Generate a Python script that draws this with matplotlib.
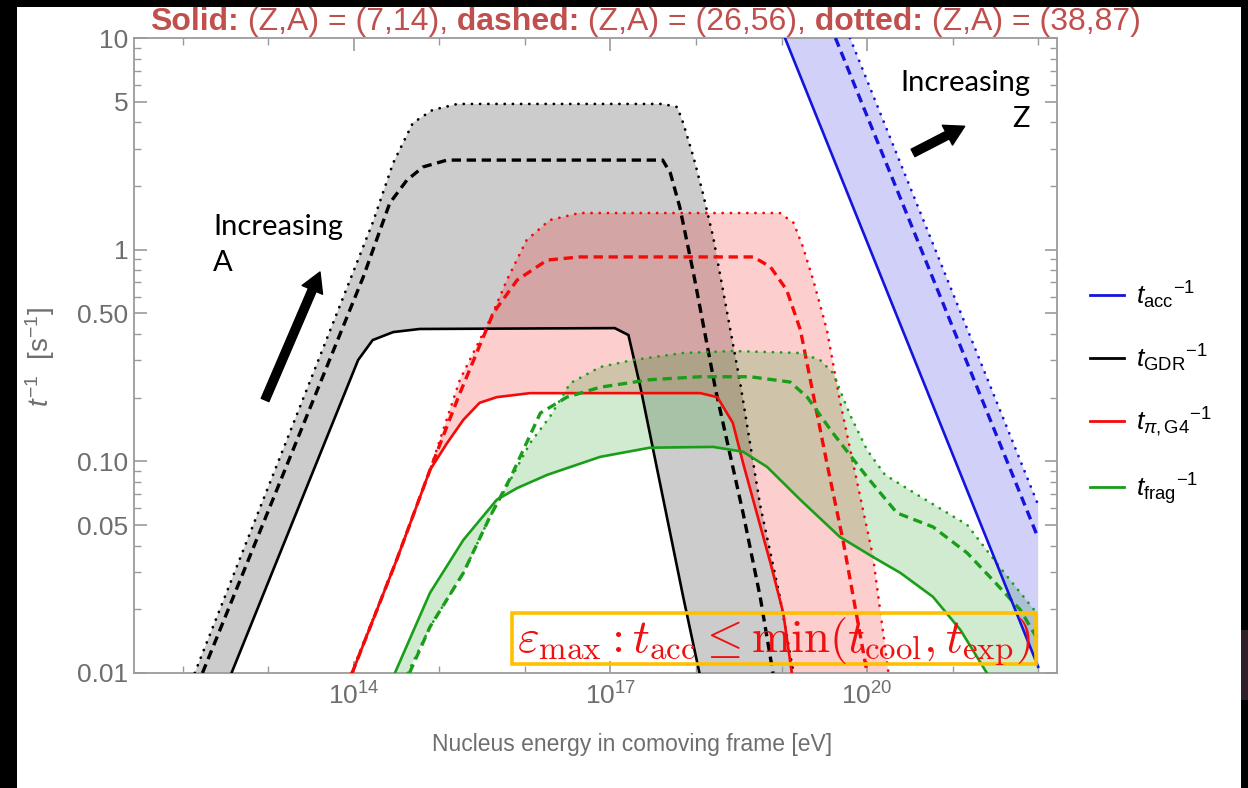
import numpy as np
import matplotlib
matplotlib.use('Agg')
import matplotlib.pyplot as plt
from matplotlib.lines import Line2D
from matplotlib.patches import Rectangle, ArrowStyle
from matplotlib.ticker import NullFormatter
from matplotlib import font_manager

# energies as log10(E / eV), rates t^-1 in 1/s
# solid: (Z,A) = (7,14), dashed: (26,56), dotted: (38,87)

# acceleration
acc_solid_logE = [19.04, 22.0]
acc_solid_t = [10.0, 0.0107]
acc_dashed_logE = [19.63, 22.0]
acc_dashed_t = [10.0, 0.0434]
acc_dotted_logE = [19.80, 22.0]
acc_dotted_t = [10.0, 0.0622]

# giant dipole resonance
gdr_solid_logE = [12.57, 14.05, 14.22, 14.46, 14.77, 17.05, 17.21, 17.35, 17.50, 17.85, 18.04]
gdr_solid_t = [0.0100, 0.301, 0.374, 0.408, 0.422, 0.426, 0.395, 0.224, 0.113, 0.0229, 0.0100]
gdr_dashed_logE = [12.23, 14.11, 14.42, 14.62, 14.81, 15.09, 17.61, 17.70, 17.81, 17.97, 18.23, 18.55, 18.75, 18.90]
gdr_dashed_t = [0.0100, 0.743, 1.66, 2.13, 2.46, 2.65, 2.65, 2.30, 1.59, 0.776, 0.217, 0.0570, 0.0229, 0.0100]
gdr_dotted_logE = [12.14, 14.22, 14.46, 14.69, 14.92, 15.21, 17.61, 17.78, 17.85, 17.97, 18.08, 18.20, 18.52, 18.75, 18.98, 19.14]
gdr_dotted_t = [0.0100, 1.34, 2.57, 3.97, 4.57, 4.88, 4.88, 4.72, 3.97, 2.74, 1.85, 1.15, 0.23, 0.062, 0.0229, 0.0100]

# photopion (Geant4)
pi_solid_logE = [13.98, 14.50, 14.89, 15.09, 15.28, 15.47, 15.67, 16.06, 18.05, 18.25, 18.43, 18.55, 18.71, 18.87, 19.02, 19.12]
pi_solid_t = [0.0100, 0.0342, 0.0910, 0.122, 0.157, 0.189, 0.201, 0.210, 0.210, 0.201, 0.152, 0.0982, 0.0570, 0.0331, 0.0192, 0.0100]
pi_dashed_logE = [13.98, 14.50, 14.89, 15.24, 15.63, 15.91, 16.26, 16.64, 18.67, 18.87, 19.06, 19.22, 19.53, 19.72, 20.0]
pi_dashed_t = [0.0100, 0.0342, 0.0910, 0.21, 0.502, 0.719, 0.893, 0.924, 0.924, 0.829, 0.645, 0.418, 0.098, 0.042, 0.0100]
pi_dotted_logE = [13.97, 14.50, 14.89, 15.24, 15.59, 15.79, 16.02, 16.29, 16.64, 18.98, 19.14, 19.25, 19.37, 19.53, 19.68, 19.92, 20.07, 20.25]
pi_dotted_t = [0.0100, 0.0342, 0.0910, 0.243, 0.466, 0.719, 1.11, 1.38, 1.49, 1.49, 1.34, 1.03, 0.719, 0.418, 0.195, 0.0679, 0.0353, 0.0100]

# fragmentation
frag_solid_logE = [14.48, 14.89, 15.28, 15.67, 15.91, 16.26, 16.88, 17.46, 18.20, 18.55, 18.83, 19.22, 19.68, 20.07, 20.39, 20.77, 21.09, 21.40]
frag_solid_t = [0.0100, 0.0239, 0.0425, 0.0658, 0.0748, 0.0863, 0.105, 0.116, 0.117, 0.111, 0.0942, 0.0658, 0.0440, 0.0353, 0.0297, 0.0229, 0.0160, 0.0100]
frag_dashed_logE = [14.65, 14.89, 15.28, 15.59, 15.83, 16.18, 16.49, 16.88, 17.46, 18.05, 18.63, 19.10, 19.30, 19.60, 20.0, 20.35, 20.77, 21.17, 21.47, 21.79, 22.0]
frag_dashed_t = [0.0100, 0.0165, 0.0297, 0.0546, 0.0835, 0.169, 0.201, 0.224, 0.243, 0.251, 0.251, 0.237, 0.201, 0.136, 0.0843, 0.0570, 0.0490, 0.0369, 0.0275, 0.0199, 0.0143]
frag_dotted_logE = [14.63, 14.89, 15.28, 15.59, 15.83, 16.06, 16.29, 16.53, 16.88, 17.26, 17.85, 18.43, 19.22, 19.45, 19.60, 19.80, 20.0, 20.21, 20.59, 21.17, 21.56, 22.0]
frag_dotted_t = [0.0100, 0.0165, 0.0297, 0.0546, 0.0817, 0.122, 0.162, 0.234, 0.279, 0.301, 0.325, 0.332, 0.325, 0.301, 0.262, 0.166, 0.113, 0.0863, 0.0694, 0.0501, 0.0313, 0.0188]

legend_labels = [r'${t_{\rm acc}}^{-1}$', r'${t_{\rm GDR}}^{-1}$', r'${t_{\pi,\rm G4}}^{-1}$', r'${t_{\rm frag}}^{-1}$']
y_ticks = [0.01, 0.05, 0.1, 0.5, 1, 5, 10]
y_ticklabels = ['0.01', '0.05', '0.10', '0.50', '1', '5', '10']
x_tick_exp = [14, 17, 20]
title_parts = [('Solid:', 'bold'), (' (Z,A) = (7,14),', 'normal'),
               (' dashed:', 'bold'), (' (Z,A) = (26,56),', 'normal'),
               (' dotted:', 'bold'), (' (Z,A) = (38,87)', 'normal')]

c_acc = '#1414dc'
c_gdr = 'black'
c_pi = '#f50a0a'
c_frag = '#1a9e1a'
gray_txt = '#6e6e6e'
gray_ax = '#9b9b9b'

plt.rcParams['font.family'] = ['Liberation Sans', 'DejaVu Sans']
plt.rcParams['mathtext.fontset'] = 'custom'
plt.rcParams['mathtext.rm'] = 'Liberation Sans'
plt.rcParams['mathtext.it'] = 'Liberation Sans:italic'
plt.rcParams['mathtext.bf'] = 'Liberation Sans:bold'

names = {f.name for f in font_manager.fontManager.ttflist}
title_font = 'Liberation Sans Narrow' if 'Liberation Sans Narrow' in names else 'Liberation Sans'
note_font = 'Lato' if 'Lato' in names else 'Open Sans'

W, H = 1248, 788
fig = plt.figure(figsize=(W / 100, H / 100), dpi=100)
fig.patch.set_facecolor('black')
fig.add_artist(Rectangle((17 / W, 0), 1224 / W, 781 / H, transform=fig.transFigure,
                         facecolor='white', edgecolor='none', zorder=-10))
fig.add_artist(Rectangle((1241 / W, 88 / H), 7 / W, 70 / H, transform=fig.transFigure,
                         facecolor='#2e1f29', edgecolor='none', zorder=-10))

ax = fig.add_axes([134 / W, (H - 673) / H, 923 / W, 635 / H])
ax.set_xscale('log')
ax.set_yscale('log')
ax.set_xlim(10 ** 11.43, 10 ** 22.22)
ax.set_ylim(0.01, 10)


def band(lo_x, lo_t, hi_x, hi_t, color):
    # shaded region between the solid and dotted curve
    xs = list(hi_x) + [hi_x[-1]] + list(lo_x)[::-1]
    ts = list(hi_t) + [lo_t[-1]] + list(lo_t)[::-1]
    ax.fill(10 ** np.array(xs), ts, color=color, alpha=0.2, lw=0, zorder=1)


def curves(sx, st, dx, dt, ox, ot, color):
    ax.plot(10 ** np.array(sx), st, color=color, lw=1.9, zorder=3)
    ax.plot(10 ** np.array(dx), dt, color=color, lw=2.4, ls=(0, (2.8, 1.7)), zorder=3)
    ax.plot(10 ** np.array(ox), ot, color=color, lw=2.0, ls=(0, (0.05, 2.9)),
            dash_capstyle='round', zorder=3)


band(gdr_solid_logE, gdr_solid_t, gdr_dotted_logE, gdr_dotted_t, c_gdr)
band(pi_solid_logE, pi_solid_t, pi_dotted_logE, pi_dotted_t, c_pi)
band(frag_solid_logE, frag_solid_t, frag_dotted_logE, frag_dotted_t, c_frag)
band(acc_solid_logE, acc_solid_t, acc_dotted_logE, acc_dotted_t, c_acc)

curves(gdr_solid_logE, gdr_solid_t, gdr_dashed_logE, gdr_dashed_t, gdr_dotted_logE, gdr_dotted_t, c_gdr)
curves(pi_solid_logE, pi_solid_t, pi_dashed_logE, pi_dashed_t, pi_dotted_logE, pi_dotted_t, c_pi)
curves(frag_solid_logE, frag_solid_t, frag_dashed_logE, frag_dashed_t, frag_dotted_logE, frag_dotted_t, c_frag)
curves(acc_solid_logE, acc_solid_t, acc_dashed_logE, acc_dashed_t, acc_dotted_logE, acc_dotted_t, c_acc)

# ticks
ax.set_xticks([10.0 ** k for k in x_tick_exp])
ax.set_xticklabels([r'$10^{%d}$' % k for k in x_tick_exp])
ax.set_xticks([10.0 ** k for k in range(12, 23) if k not in x_tick_exp], minor=True)
ax.xaxis.set_minor_formatter(NullFormatter())
ax.set_yticks(y_ticks)
ax.set_yticklabels(y_ticklabels)
ax.set_yticks([m * 10.0 ** e for e in (-2, -1, 0) for m in range(2, 10) if m != 5], minor=True)
ax.yaxis.set_minor_formatter(NullFormatter())
ax.tick_params(which='both', direction='in', top=True, right=True, color=gray_ax,
               labelcolor=gray_txt, labelsize=19)
ax.tick_params(which='major', length=9, width=1.2)
ax.tick_params(which='minor', length=5, width=1.0)
ax.tick_params(axis='x', pad=7)
ax.tick_params(axis='y', pad=4)
for s in ax.spines.values():
    s.set_color(gray_ax)
    s.set_linewidth(1.3)

yl = fig.text(40 / W, 1 - 357 / H, r'$t^{-1}$  [s$^{-1}$]', rotation=90, ha='center', va='center',
              color=gray_txt, fontsize=19)
xl = fig.text(632 / W, 1 - 745 / H, 'Nucleus energy in comoving frame [eV]', ha='center',
              va='center', color=gray_txt, fontsize=16)

# legend outside on the right
handles = [Line2D([], [], color=c, lw=2.0) for c in (c_acc, c_gdr, c_pi, c_frag)]
fig.legend(handles, legend_labels, loc='center left', bbox_to_anchor=(1066 / W, 1 - 393 / H),
           frameon=False, fontsize=19, handlelength=1.3, handletextpad=0.45, labelspacing=1.2)

# arrows and notes
ax.text(0.0856, 0.674, 'Increasing\nA', transform=ax.transAxes, ha='left', va='center',
        fontsize=21, family=note_font, linespacing=1.45)
ax.text(0.9707, 0.901, 'Increasing\nZ', transform=ax.transAxes, ha='right', va='center',
        fontsize=21, family=note_font, linespacing=1.45, multialignment='right')
arrow = ArrowStyle.Simple(head_length=14, head_width=16, tail_width=6)
ax.annotate('', xy=(0.2015, 0.6315), xytext=(0.142, 0.430), xycoords='axes fraction',
            arrowprops=dict(arrowstyle=arrow, mutation_scale=1, color='black',
                            shrinkA=0, shrinkB=0))
ax.annotate('', xy=(0.900, 0.861), xytext=(0.844, 0.819), xycoords='axes fraction',
            arrowprops=dict(arrowstyle=arrow, mutation_scale=1, color='black',
                            shrinkA=0, shrinkB=0))

ax.add_patch(Rectangle((0.4095, 0.0142), 0.5675, 0.0803, transform=ax.transAxes, fill=False,
                       edgecolor='#ffc000', lw=2.6, clip_on=False, zorder=5))
box_txt = ax.text(0.6935, 0.050, r'$\varepsilon_{\max} : t_{\rm acc} \leq \min(t_{\rm cool}, t_{\rm exp})$',
                  transform=ax.transAxes, ha='center', va='center', color='#ee1111',
                  fontsize=24, math_fontfamily='cm', zorder=6)

# title built from bold and regular pieces
title = []
prev = None
for s, w in title_parts:
    if prev is None:
        prev = fig.text(150 / W, 1 - 37 / H, s, ha='left', va='bottom', weight=w,
                        family=title_font, color='#c0504d', fontsize=20)
    else:
        prev = ax.annotate(s, xy=(1, 0), xycoords=prev, ha='left', va='bottom', weight=w,
                           family=title_font, color='#c0504d', fontsize=20,
                           annotation_clip=False)
    title.append(prev)

r = fig.canvas.get_renderer()
fig.canvas.draw()
tw = title[-1].get_window_extent(r).x1 - title[0].get_window_extent(r).x0
for t in title:
    t.set_fontsize(20 * 993 / tw)
bw = box_txt.get_window_extent(r).width
box_txt.set_fontsize(24 * 515 / bw)
xw = xl.get_window_extent(r).width
xl.set_fontsize(16 * 400 / xw)
yh = yl.get_window_extent(r).height
yl.set_fontsize(19 * 100 / yh)

fig.savefig('out.png', dpi=100, facecolor=fig.get_facecolor())
